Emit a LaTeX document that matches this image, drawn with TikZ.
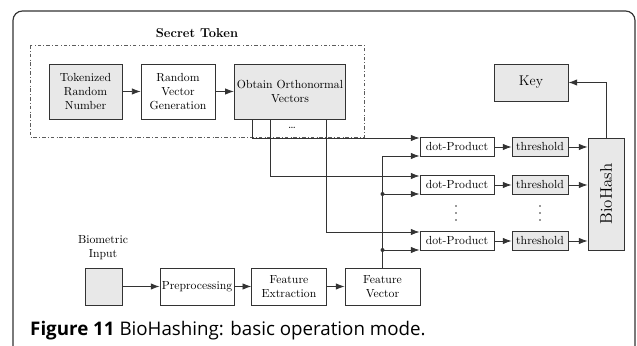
\documentclass[tikz,border=0pt]{standalone}
\usepackage{fontspec}
\newfontfamily\capfont{Open Sans}
\usetikzlibrary{arrows.meta,calc}

\definecolor{boxgray}{HTML}{E8E8E8}
\definecolor{linegray}{HTML}{333333}

\tikzset{
    box/.style={draw=linegray, line width=0.7pt, inner sep=0pt, align=center,
        font=\normalsize},
    greybox/.style={box, fill=boxgray},
    arr/.style={-{Latex[length=7.5pt,width=5.5pt]}, draw=linegray, line width=0.7pt},
    wire/.style={draw=linegray, line width=0.7pt}
}

\begin{document}
\begin{tikzpicture}[x=0.03cm, y=-0.03cm]
        \useasboundingbox (0,0) rectangle (637,346);

        % Outer frame (only the top corners show)
        \draw[linegray, line width=1pt, rounded corners=8] (13,360) -- (13,11) -- (635,11) -- (635,360);

        % Secret token part
        \node[font=\fontsize{11}{13}\selectfont\bfseries] (sectitle) at (197,33) {Secret Token};
        \draw[linegray!80, dash dot, line width=0.5pt] (30,45) rectangle (364,137);

        \node[greybox, minimum width=62.3pt, minimum height=47pt] (token) at (85.5,91.5) {Tokenized\\Random\\Number};
        \node[box, minimum width=63.1pt, minimum height=47pt] (rvg) at (178,91.5) {Random\\Vector\\Generation};
        \node[greybox, minimum width=95.2pt, minimum height=47pt] (ortho) at (290,91.5) {Obtain Orthonormal\\Vectors};
        \node[inner sep=0pt] (odots) at (292,128) {\ldots};

        \draw[arr] (token) -- (rvg);
        \draw[arr] (rvg) -- (ortho);

        % Key and BioHash
        \node[greybox, minimum width=63.2pt, minimum height=31.6pt, font=\large] (key) at (531,82.5) {Key};
        \node[greybox, minimum width=30.7pt, minimum height=95.6pt] (biohash) at (606,194)
            {\rotatebox{90}{\Large BioHash}};

        % dot products and thresholds
        \node[box, minimum width=63.2pt, minimum height=16pt] (dot1) at (457,147) {dot-Product};
        \node[box, minimum width=63.2pt, minimum height=16pt] (dot2) at (457,185) {dot-Product};
        \node[box, minimum width=63.2pt, minimum height=16pt] (dot3) at (457,241) {dot-Product};

        \node[greybox, minimum width=47.8pt, minimum height=16pt] (thr1) at (540,147) {threshold};
        \node[greybox, minimum width=47.8pt, minimum height=16pt] (thr2) at (540,185) {threshold};
        \node[greybox, minimum width=47.8pt, minimum height=16pt] (thr3) at (540,241) {threshold};

        % vertical dots between the rows
        \foreach \y in {206,213,220} {
            \fill[linegray] (456,\y) circle (0.9);
            \fill[linegray] (540,\y) circle (0.9);
        }

        \draw[arr] (dot1) -- (thr1);
        \draw[arr] (dot2) -- (thr2);
        \draw[arr] (dot3) -- (thr3);
        \draw[arr] (thr1) -- (thr1 -| biohash.west);
        \draw[arr] (thr2) -- (thr2 -| biohash.west);
        \draw[arr] (thr3) -- (thr3 -| biohash.west);
        \draw[arr] (biohash.north) |- (key.east);

        % inputs of the dot products
        \coordinate (in1a) at ($(dot1.west)+(0,-9)$);
        \coordinate (in1b) at ($(dot1.west)+(0,9)$);
        \coordinate (in2a) at ($(dot2.west)+(0,-9)$);
        \coordinate (in2b) at ($(dot2.west)+(0,9)$);
        \coordinate (in3a) at ($(dot3.west)+(0,-9)$);
        \coordinate (in3b) at ($(dot3.west)+(0,9)$);

        \draw[arr] ($(ortho.south west)+(19,0)$) |- (in1a);
        \draw[arr] ($(ortho.south west)+(37,0)$) |- (in2a);
        \draw[arr] ($(ortho.south west)+(93,0)$) |- (in3a);

        % Biometric part
        \node[align=center] (biolabel) at (103,248) {Biometric\\Input};
        \node[greybox, minimum width=31.6pt, minimum height=31.6pt] (bio) at (103.5,286.5) {};
        \node[box, minimum width=63.2pt, minimum height=31.6pt] (prep) at (197,286.5) {Preprocessing};
        \node[box, minimum width=63.6pt, minimum height=31.6pt] (fext) at (289,286.5) {Feature\\Extraction};
        \node[box, minimum width=64pt, minimum height=31.6pt] (fvec) at (382.5,286.5) {Feature\\Vector};

        \draw[arr] (bio) -- (prep);
        \draw[arr] (prep) -- (fext);
        \draw[arr] (fext) -- (fvec);

        \draw[arr] (fvec.north) |- (in1b);
        \draw[arr] (fvec.north |- in2b) -- (in2b);
        \draw[arr] (fvec.north |- in3b) -- (in3b);
        \fill[linegray] (fvec.north |- in2b) circle (2);
        \fill[linegray] (fvec.north |- in3b) circle (2);

        % Caption
        \node[anchor=base west, font=\capfont\fontsize{16pt}{18pt}\selectfont, inner sep=0pt] (caption) at (30,336)
            {\textbf{Figure 11} BioHashing: basic operation mode.};
    \end{tikzpicture}
\end{document}
